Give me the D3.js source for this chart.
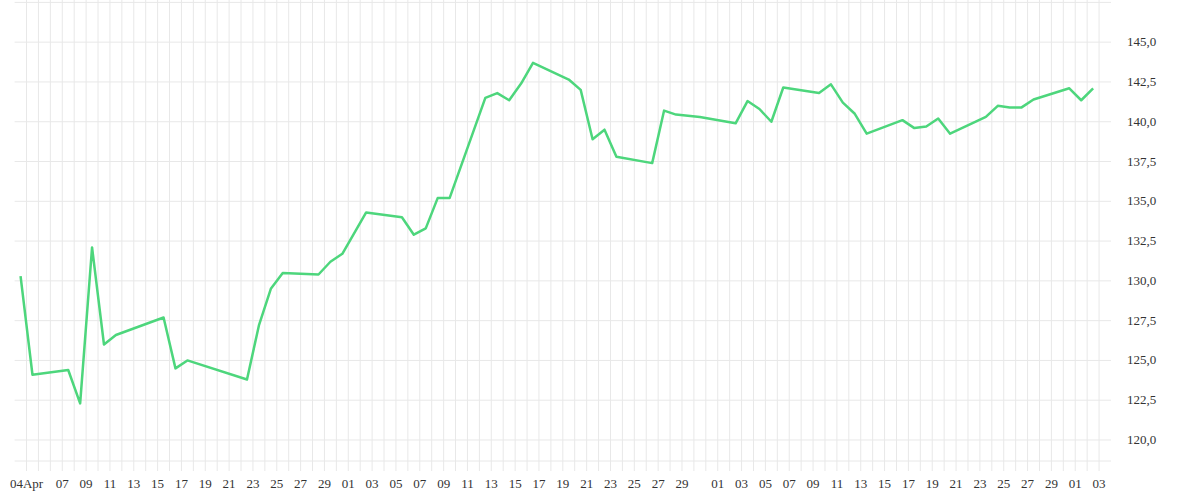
<!DOCTYPE html>
<html lang="en">
<head>
<meta charset="utf-8">
<script src="https://d3js.org/d3.v7.min.js"></script>
<style>
  body{margin:0;background:#fff;}
  text{font-family:"Liberation Serif",serif;font-size:13px;fill:#333;}
</style>
</head>
<body>
<svg id="chart" width="1200" height="500"></svg>
<script>
// trading dates and closing values
var dates = ["2022-04-04","2022-04-05","2022-04-08","2022-04-09","2022-04-10","2022-04-11","2022-04-12",
  "2022-04-16","2022-04-17","2022-04-18","2022-04-23","2022-04-24","2022-04-25","2022-04-26",
  "2022-04-29","2022-04-30","2022-05-01","2022-05-03","2022-05-06","2022-05-07","2022-05-08",
  "2022-05-09","2022-05-10","2022-05-13","2022-05-14","2022-05-15","2022-05-16","2022-05-17",
  "2022-05-20","2022-05-21","2022-05-22","2022-05-23","2022-05-24","2022-05-27","2022-05-28",
  "2022-05-29","2022-05-31","2022-06-03","2022-06-04","2022-06-05","2022-06-06","2022-06-07",
  "2022-06-10","2022-06-11","2022-06-12","2022-06-13","2022-06-14","2022-06-17","2022-06-18",
  "2022-06-19","2022-06-20","2022-06-21","2022-06-24","2022-06-25","2022-06-26","2022-06-27",
  "2022-06-28","2022-07-01","2022-07-02","2022-07-03"]
var values = [130.3,124.1,124.4,122.3,132.1,126.0,126.6,
  127.7,124.5,125.0,123.8,127.2,129.5,130.5,
  130.4,131.2,131.7,134.3,134.0,132.9,133.3,
  135.2,135.2,141.5,141.8,141.35,142.4,143.7,
  142.65,142.0,138.9,139.5,137.8,137.4,140.7,
  140.45,140.3,139.9,141.3,140.8,140.0,142.15,
  141.8,142.35,141.2,140.5,139.25,140.1,139.6,
  139.7,140.2,139.25,140.3,141.0,140.9,140.9,
  141.4,142.1,141.35,142.1]
var yTicks = [120,122.5,125,127.5,130,132.5,135,137.5,140,142.5,145]

var parse = d3.timeParse("%Y-%m-%d")
var data = dates.map(function(d,i){ return {date:parse(d), value:values[i]} })

var svg = d3.select("#chart")
var plotLeft = 14.6, plotRight = 1111, plotTop = 0, plotBottom = 461

var x = d3.scaleTime()
  .domain([parse("2022-04-03"), parse("2022-07-04")])
  .range([plotLeft, plotRight])
var y = d3.scaleLinear().domain([118.68,147.65]).range([plotBottom, plotTop])

// daily vertical grid
var days = d3.timeDay.range(parse("2022-04-04"), parse("2022-07-04"))
svg.append("g").selectAll("line").data(days).enter().append("line")
  .attr("x1",function(d){return x(d)}).attr("x2",function(d){return x(d)})
  .attr("y1",plotTop).attr("y2",plotBottom+10)
  .attr("stroke","#e8e8e8").attr("stroke-width",1)

// horizontal grid
var hLines = d3.range(117.5,148,2.5).filter(function(v){return y(v)>=plotTop && y(v)<=plotBottom})
svg.append("g").selectAll("line").data(hLines).enter().append("line")
  .attr("x1",plotLeft).attr("x2",plotRight)
  .attr("y1",function(d){return y(d)}).attr("y2",function(d){return y(d)})
  .attr("stroke","#e8e8e8").attr("stroke-width",1)
svg.append("line").attr("x1",plotLeft).attr("x2",plotRight).attr("y1",plotBottom).attr("y2",plotBottom)
  .attr("stroke","#e8e8e8")

// x tick labels: first date, then odd days of the month
var xTicks = [parse("2022-04-04")].concat(
  d3.timeDay.every(2).range(parse("2022-04-06"), parse("2022-07-04"))
    .filter(function(d){return d.getDate()!==31}))
svg.append("g").selectAll("text").data(xTicks).enter().append("text")
  .attr("x",function(d){return x(d)}).attr("y",488)
  .attr("text-anchor","middle")
  .text(function(d,i){return i===0 ? d3.timeFormat("%d%b")(d) : d3.timeFormat("%d")(d)})

// y tick labels on the right
var fmt = function(v){return v.toFixed(1).replace(".",",")}
svg.append("g").selectAll("text").data(yTicks).enter().append("text")
  .attr("x",1127).attr("y",function(d){return y(d)+4})
  .text(fmt)

// the line, points sit half a day before their date
var line = d3.line()
  .x(function(d){return x(d3.timeHour.offset(d.date,-12))})
  .y(function(d){return y(d.value)})
svg.append("path").datum(data)
  .attr("d",line)
  .attr("fill","none")
  .attr("stroke","#4dd67c")
  .attr("stroke-width",2.5)
  .attr("stroke-linejoin","round")
</script>
</body>
</html>
